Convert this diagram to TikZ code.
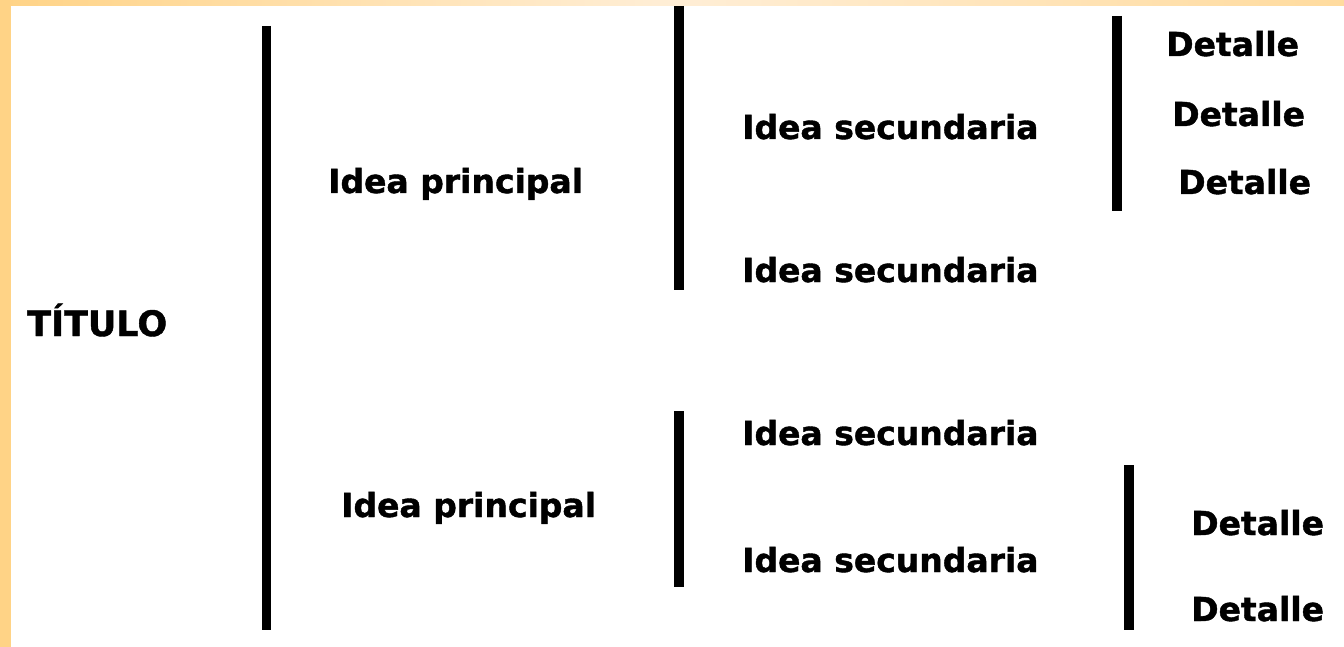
\documentclass[tikz,border=0pt]{standalone}
\usepackage{fontspec}
\setmainfont{DejaVu Sans}
\newfontfamily\heavyfont[FakeBold=1.2]{DejaVu Sans Bold}
\usetikzlibrary{positioning}
\definecolor{frameorange}{HTML}{FFD386}
\definecolor{framepale}{HTML}{FFEED6}
\begin{document}
\begin{tikzpicture}[x=1pt,y=-1pt,
  lbl/.style={anchor=base west,inner sep=0pt,font=\heavyfont\fontsize{33}{40}\selectfont},
  bar/.style={line width=10pt,line cap=butt,black}]
\useasboundingbox (0,0) rectangle (1344,647);
\fill[white] (0,0) rectangle (1344,647);
% frame
\shade[left color=frameorange,right color=frameorange!70!framepale,middle color=framepale] (0,0) rectangle (1344,6);
\fill[frameorange] (0,0) rectangle (11,647);
% labels
\node[lbl,font=\heavyfont\fontsize{35}{40}\selectfont] (tit) at (27,336) {TÍTULO};
\node[lbl] (ip1) at (328,193) {Idea principal};
\node[lbl] (ip2) at (341,517) {Idea principal};
\node[lbl] (is1) at (742,139) {Idea secundaria};
\node[lbl] (is2) at (742,282) {Idea secundaria};
\node[lbl] (is3) at (742,445) {Idea secundaria};
\node[lbl] (is4) at (742,572) {Idea secundaria};
\node[lbl] (d1) at (1166,56) {Detalle};
\node[lbl] (d2) at (1172,126) {Detalle};
\node[lbl] (d3) at (1178,194) {Detalle};
\node[lbl] (d4) at (1191,535) {Detalle};
\node[lbl] (d5) at (1191,621) {Detalle};
% brackets
\coordinate (b1t) at (266,26);  \coordinate (b1b) at (266,630);
\coordinate (b2t) at (679,6);   \coordinate (b2b) at (679,290);
\coordinate (b3t) at (1117,16); \coordinate (b3b) at (1117,211);
\coordinate (b4t) at (679,411); \coordinate (b4b) at (679,587);
\coordinate (b5t) at (1129,465);\coordinate (b5b) at (1129,630);
\draw[bar,line width=9pt] (b1t) -- (b1b);
\draw[bar] (b2t) -- (b2b);
\draw[bar] (b3t) -- (b3b);
\draw[bar] (b4t) -- (b4b);
\draw[bar] (b5t) -- (b5b);
\end{tikzpicture}
\end{document}
